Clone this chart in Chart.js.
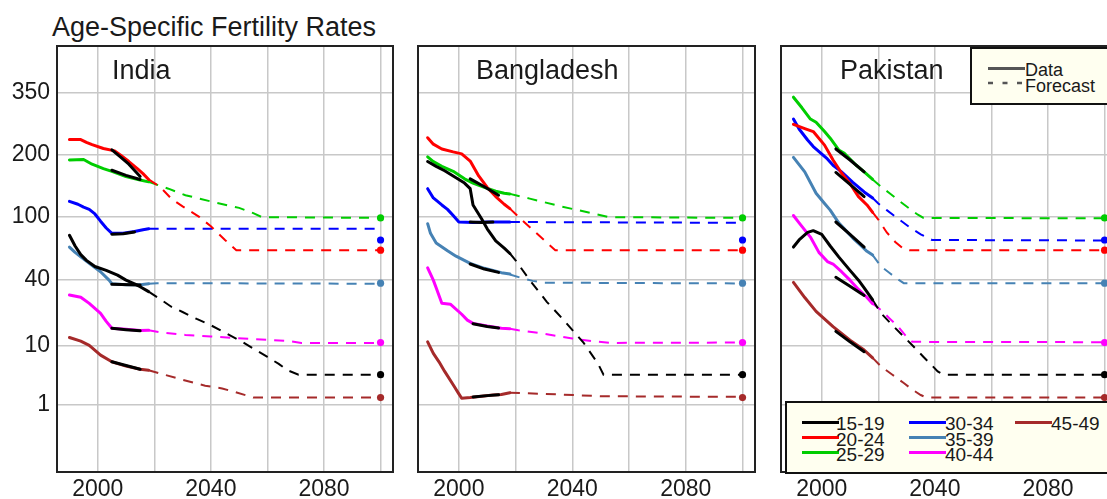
<!DOCTYPE html>
<html><head><meta charset="utf-8">
<script src="https://cdn.jsdelivr.net/npm/chart.js@4.4.1/dist/chart.umd.min.js"></script>
<style>
body{margin:0;width:1107px;height:499px;overflow:hidden;position:relative;background:#fff;font-family:"Liberation Sans",Arial,sans-serif;color:#1a1a1a}
canvas{position:absolute;top:0}
.t{position:absolute;white-space:nowrap;line-height:1}
.box{position:absolute;background:#FFFFF0;border:2px solid #111;box-sizing:border-box}
.ln{position:absolute;height:3px}
</style></head><body>
<div class="t" style="left:52px;top:14px;font-size:27px">Age-Specific Fertility Rates</div>
<canvas id="c0" width="400" height="499" style="left:0;width:400px;height:499px"></canvas>
<canvas id="c1" width="350" height="499" style="left:410px;width:350px;height:499px"></canvas>
<canvas id="c2" width="360" height="499" style="left:770px;width:360px;height:499px"></canvas>
<div class="t" style="left:112px;top:57px;font-size:27px">India</div>
<div class="t" style="left:476px;top:57px;font-size:27px">Bangladesh</div>
<div class="t" style="left:840px;top:57px;font-size:27px">Pakistan</div>
<div id="legends"></div>
<script>
// ---------- axis / category data ----------
const ageGroups = ['15-19','20-24','25-29','30-34','35-39','40-44','45-49'];
const countries = ['India','Bangladesh','Pakistan'];
const xGridYears = [2000,2020,2040,2060,2080,2100];
const xTickLabels = [2000,2040,2080];
const yTickValues = [1,10,40,100,200,350];
const targetYear = 2100;
const target2100 = [4.0,64,99,74,38,10.8,1.5];

// ---------- India ----------
const IND_1519_obs = [[1990,79],[1992,68],[1994,60],[1996,55],[1999,50],[2003,47],[2007,43.5],[2010,40],[2013,37.5],[2015,35.7],[2018,32.7]];
const IND_1519_fc  = [[2018,32.7],[2022,28.5],[2026,24.5],[2030,22],[2035,19],[2040,16.5],[2045,13.8],[2050,11.5],[2055,9.2],[2060,7.2],[2064,5.8],[2067,4.7],[2071,4.0],[2100,4.0]];
const IND_2024_obs = [[1990,232],[1994,232],[1996,226],[1998,221],[2002,213],[2006,208],[2008,200],[2011,187],[2014,174],[2016,165],[2018,155]];
const IND_2024_alt = [[2005,210],[2008,196],[2011,182],[2015,160]];
const IND_2024_fc  = [[2018,155],[2022,143],[2026,125],[2030,114],[2036,100],[2040,89],[2045,74],[2049,64],[2100,64]];
const IND_2529_obs = [[1990,190],[1995,191],[1998,182],[2002,174],[2005,169],[2010,160],[2015,154],[2018,151]];
const IND_2529_alt = [[2005,171],[2010,162],[2015,155]];
const IND_2529_fc  = [[2018,151],[2025,140],[2031,130],[2036,125],[2042,119],[2050,112],[2055,105],[2058,100],[2100,99]];
const IND_3034_obs = [[1990,121],[1993,117],[1995,113],[1997,110],[1999,104],[2001,95],[2003,87],[2005,81],[2009,81],[2013,83],[2016,85],[2018,86]];
const IND_3034_alt = [[2005,80],[2009,80.5],[2013,82.5]];
const IND_3034_fc  = [[2018,86],[2100,86]];
const IND_3539_obs = [[1990,67],[1992,62],[1994,58],[1997,52.5],[2001,46],[2004,40],[2005,37.6],[2010,37],[2015,37],[2018,37.6]];
const IND_3539_alt = [[2005,37.2],[2015,36.8]];
const IND_3539_fc  = [[2018,37.6],[2021,38],[2100,37.6]];
const IND_4044_obs = [[1990,30.7],[1994,29.5],[1997,26.2],[2001,21.4],[2003,18],[2005,15.4],[2010,15],[2015,14.6],[2018,14.7]];
const IND_4044_alt = [[2005,15.4],[2010,14.9],[2015,14.5]];
const IND_4044_fc  = [[2018,14.7],[2022,14],[2031,13.1],[2040,12.6],[2048,12.2],[2055,11.8],[2062,11.5],[2068,11.2],[2072,10.7],[2100,10.7]];
const IND_4549_obs = [[1990,12.3],[1994,11.2],[1997,10],[2001,7.6],[2005,6.2],[2010,5.4],[2015,4.85],[2018,4.7]];
const IND_4549_alt = [[2005,6.2],[2010,5.5],[2015,4.85]];
const IND_4549_fc  = [[2018,4.7],[2024,3.95],[2030,3.3],[2038,2.6],[2044,2.3],[2048,2.0],[2055,1.5],[2100,1.5]];

// ---------- Bangladesh ----------
const BGD_1519_obs = [[1989,187],[1992,178],[1995,170],[1999,158],[2002,149],[2004,140],[2005,116],[2008,98],[2010,86],[2013,73],[2016,66],[2018,61]];
const BGD_1519_fc  = [[2018,61],[2020,55],[2025,40],[2031,27],[2037,18.5],[2044,10.7],[2049,5.9],[2051,4.0],[2100,4.0]];
const BGD_2024_obs = [[1989,236],[1991,222],[1994,212],[1998,206],[2001,202],[2004,188],[2007,161],[2010,142],[2013,128],[2016,117],[2018,111]];
const BGD_2024_fc  = [[2018,111],[2020,104],[2023,94],[2026,85],[2030,74],[2034,64],[2100,64]];
const BGD_2529_obs = [[1989,196],[1991,187],[1994,178],[1998,169],[2002,156],[2005,149],[2009,142],[2013,136],[2016,133],[2018,132]];
const BGD_2529_alt = [[2004,156],[2009,143],[2014,130]];
const BGD_2529_fc  = [[2018,132],[2020,130],[2025,125],[2030,120],[2036,114],[2042,109],[2048,104],[2053,100],[2100,99]];
const BGD_3034_obs = [[1989,140],[1991,126],[1994,116],[1996,110],[1998,102],[2000,94],[2005,93.5],[2010,94],[2014,94],[2018,94]];
const BGD_3034_alt = [[2004,94],[2008,93.5],[2012,94]];
const BGD_3034_fc  = [[2018,94],[2100,93]];
const BGD_3539_obs = [[1989,92],[1990,81],[1992,71],[1996,63.5],[1999,58.6],[2004,52.5],[2009,48.6],[2015,45.3],[2018,44.3]];
const BGD_3539_alt = [[2004,52],[2009,48],[2014,45.5]];
const BGD_3539_fc  = [[2018,44],[2022,41.5],[2026,39.5],[2030,38.3],[2100,37.8]];
const BGD_4044_obs = [[1989,49],[1991,40],[1992,35],[1994,26.2],[1997,25.8],[2001,21],[2003,18.5],[2005,17.2],[2010,16.2],[2015,15.4],[2018,15.2]];
const BGD_4044_alt = [[2005,17.1],[2010,16],[2014,15.5]];
const BGD_4044_fc  = [[2018,15.2],[2021,14.7],[2030,13.5],[2040,12],[2047,11.2],[2053,10.7],[2100,10.8]];
const BGD_4549_obs = [[1989,11],[1991,8],[1993,6.2],[1995,4.5],[1998,2.7],[2000,1.8],[2001,1.45],[2004,1.5],[2008,1.6],[2012,1.7],[2015,1.75],[2018,1.9]];
const BGD_4549_alt = [[2005,1.55],[2010,1.65],[2014,1.72]];
const BGD_4549_fc  = [[2018,1.9],[2030,1.8],[2050,1.6],[2100,1.55]];

// ---------- Pakistan ----------
const PAK_1519_obs = [[1990,67],[1992,74],[1995,82],[1997,84],[2000,80],[2003,68],[2006,58],[2010,47],[2013,40],[2015,35],[2018,28]];
const PAK_1519_fc  = [[2018,28],[2021,21.4],[2025,16.5],[2029,12.6],[2033,9.3],[2036,7.2],[2039,5.5],[2041,4.5],[2043,4.0],[2100,4.0]];
const PAK_2024_obs = [[1990,267],[1994,257],[1997,250],[2001,220],[2004,190],[2007,166],[2010,148],[2013,128],[2016,116],[2018,106]];
const PAK_2024_alt = [[2005,167],[2010,147],[2015,128]];
const PAK_2024_fc  = [[2018,106],[2020,97],[2023,82],[2026,72],[2029,65],[2031,64],[2100,64]];
const PAK_2529_obs = [[1990,338],[1993,309],[1996,280],[1998,272],[2001,250],[2003,235],[2006,210],[2008,203],[2012,181],[2015,168],[2018,155]];
const PAK_2529_alt = [[2005,212],[2010,190],[2015,168]];
const PAK_2529_fc  = [[2018,155],[2021,143],[2024,133],[2027,123],[2031,111],[2034,103],[2036,99],[2100,98.5]];
const PAK_3034_obs = [[1990,280],[1992,256],[1995,231],[1997,217],[2002,192],[2004,180],[2007,168],[2011,150],[2015,135],[2018,126]];
const PAK_3034_fc  = [[2018,126],[2020,118],[2023,109],[2027,98],[2031,88],[2035,80],[2039,74],[2100,73.5]];
const PAK_3539_obs = [[1990,195],[1994,168],[1998,133],[2001,118],[2003,109],[2006,93],[2008,86],[2011,76],[2014,68],[2016,63],[2018,59.6]];
const PAK_3539_alt = [[2005,94],[2010,80],[2015,67]];
const PAK_3539_fc  = [[2018,59.6],[2021,50],[2024,45],[2027,40.5],[2029,38],[2100,37.9]];
const PAK_4044_obs = [[1990,102],[1992,93],[1996,77],[1999,62],[2002,54],[2004,52],[2007,46],[2010,40],[2013,34],[2016,29.3],[2018,26]];
const PAK_4044_alt = [[2005,42],[2010,36],[2015,30.5]];
const PAK_4044_fc  = [[2018,26],[2021,22.9],[2024,19.2],[2027,16],[2030,12.5],[2032,11],[2100,10.9]];
const PAK_4549_obs = [[1990,38.5],[1994,29.3],[1998,22.3],[2004,16],[2010,11.5],[2015,8.8],[2018,7]];
const PAK_4549_alt = [[2005,14.3],[2010,11],[2015,8.4]];
const PAK_4549_fc  = [[2018,7],[2021,5.3],[2025,4.0],[2029,2.9],[2032,2.2],[2035,1.7],[2037,1.5],[2100,1.5]];

// ---------- styles ----------
const ageColors = ['#000000','#FF0000','#00CD00','#0000FF','#4682B4','#FF00FF','#A52A2A'];
const gridColor = '#c8c8c8';
const textColor = '#1a1a1a';

const panels = [
  {obs:[IND_1519_obs,IND_2024_obs,IND_2529_obs,IND_3034_obs,IND_3539_obs,IND_4044_obs,IND_4549_obs],
   fc:[IND_1519_fc,IND_2024_fc,IND_2529_fc,IND_3034_fc,IND_3539_fc,IND_4044_fc,IND_4549_fc],
   alt:[null,IND_2024_alt,IND_2529_alt,IND_3034_alt,IND_3539_alt,IND_4044_alt,IND_4549_alt]},
  {obs:[BGD_1519_obs,BGD_2024_obs,BGD_2529_obs,BGD_3034_obs,BGD_3539_obs,BGD_4044_obs,BGD_4549_obs],
   fc:[BGD_1519_fc,BGD_2024_fc,BGD_2529_fc,BGD_3034_fc,BGD_3539_fc,BGD_4044_fc,BGD_4549_fc],
   alt:[null,null,BGD_2529_alt,BGD_3034_alt,BGD_3539_alt,BGD_4044_alt,BGD_4549_alt]},
  {obs:[PAK_1519_obs,PAK_2024_obs,PAK_2529_obs,PAK_3034_obs,PAK_3539_obs,PAK_4044_obs,PAK_4549_obs],
   fc:[PAK_1519_fc,PAK_2024_fc,PAK_2529_fc,PAK_3034_fc,PAK_3539_fc,PAK_4044_fc,PAK_4549_fc],
   alt:[null,PAK_2024_alt,PAK_2529_alt,null,PAK_3539_alt,PAK_4044_alt,PAK_4549_alt]}
];
// layout of each canvas: y-axis width, right padding, show y labels
const layouts = [{yw:57, rp:7, lab:true},{yw:8, rp:5, lab:false},{yw:11, rp:13, lab:false}];

Chart.defaults.font.family = '"Liberation Sans", Arial, sans-serif';
Chart.defaults.color = textColor;

// cube-root transformed vertical axis
const tr = v => Math.cbrt(v);
const toPts = arr => arr.map(([x,y]) => ({x:x, y:tr(y)}));

function buildDatasets(p){
  const ds = [];
  ageGroups.forEach((g,i) => {
    ds.push({label:g+' forecast', data:toPts(p.fc[i]), borderColor:ageColors[i], borderWidth:2,
      borderDash:[10,8], borderCapStyle:'butt', pointRadius:0, order:3});
    ds.push({label:g, data:toPts(p.obs[i]), borderColor:ageColors[i], borderWidth:3,
      borderCapStyle:'round', borderJoinStyle:'round', pointRadius:0, order:2});
    if (p.alt[i]) ds.push({label:g+' (other source)', data:toPts(p.alt[i]), borderColor:'#000', borderWidth:3,
      borderCapStyle:'round', borderJoinStyle:'round', pointRadius:0, order:1});
  });
  ds.push({label:'2100 target', data:target2100.map(v => ({x:targetYear, y:tr(v)})), showLine:false,
    pointRadius:3.6, pointBackgroundColor:ageColors, pointBorderWidth:0, order:0});
  return ds;
}

const framePlugin = {
  id:'frame',
  afterDraw(chart){
    const a = chart.chartArea, c = chart.ctx;
    c.save(); c.strokeStyle = '#222'; c.lineWidth = 2;
    c.strokeRect(a.left, a.top, a.right - a.left, a.bottom - a.top);
    c.restore();
  }
};

panels.forEach((p, k) => {
  const L = layouts[k];
  new Chart(document.getElementById('c'+k), {
    type:'line',
    data:{datasets:buildDatasets(p)},
    options:{
      responsive:false, animation:false, events:[],
      layout:{padding:{left:0, right:L.rp, top:46, bottom:0}},
      plugins:{legend:{display:false}, tooltip:{enabled:false}, title:{display:false}},
      scales:{
        x:{type:'linear', min:1985.6, max:2104.4,
           afterBuildTicks:s => { s.ticks = xGridYears.map(v => ({value:v})); },
           afterFit:s => { s.height = 27; },
           ticks:{autoSkip:false, maxRotation:0, padding:4, font:{size:23}, color:textColor,
                  callback:v => xTickLabels.includes(v) ? String(v) : ''},
           grid:{color:gridColor, lineWidth:1.5, drawTicks:false},
           border:{display:false}},
        y:{type:'linear', min:-0.2986, max:7.958,
           afterBuildTicks:s => { s.ticks = yTickValues.map(v => ({value:tr(v)})); },
           afterFit:s => { s.width = L.yw; },
           ticks:{display:L.lab, autoSkip:false, padding:7, font:{size:23}, color:textColor,
                  callback:(v,i) => String(yTickValues[i])},
           grid:{color:gridColor, lineWidth:1.5, drawTicks:false},
           border:{display:false}}
      }
    },
    plugins:[framePlugin]
  });
});

// ---------- legends (HTML) ----------
const lg = document.getElementById('legends');
function add(html){ lg.insertAdjacentHTML('beforeend', html); }
add('<div class="box" style="left:970px;top:47px;width:170px;height:58px"></div>');
add('<div class="ln" style="left:988px;top:67px;width:37px;background:#555"></div>');
add('<svg style="position:absolute;left:988px;top:81px" width="38" height="4"><line x1="0" y1="2" x2="38" y2="2" stroke="#555" stroke-width="2.6" stroke-dasharray="5,9.5"/></svg>');
add('<div class="t" style="left:1025px;top:61px;font-size:18px">Data</div>');
add('<div class="t" style="left:1025px;top:77px;font-size:18px">Forecast</div>');
add('<div class="box" style="left:785px;top:401px;width:360px;height:73px"></div>');
const colX = [802, 909, 1015], textX = [836, 945, 1051];
ageGroups.forEach((g,i) => {
  const c = Math.floor(i/3), r = i % 3;
  add('<div class="ln" style="left:'+colX[c]+'px;top:'+(421+15*r)+'px;width:37px;background:'+ageColors[i]+'"></div>');
  add('<div class="t" style="left:'+textX[c]+'px;top:'+(414+15.5*r)+'px;font-size:19px">'+g+'</div>');
});
</script>
</body></html>
